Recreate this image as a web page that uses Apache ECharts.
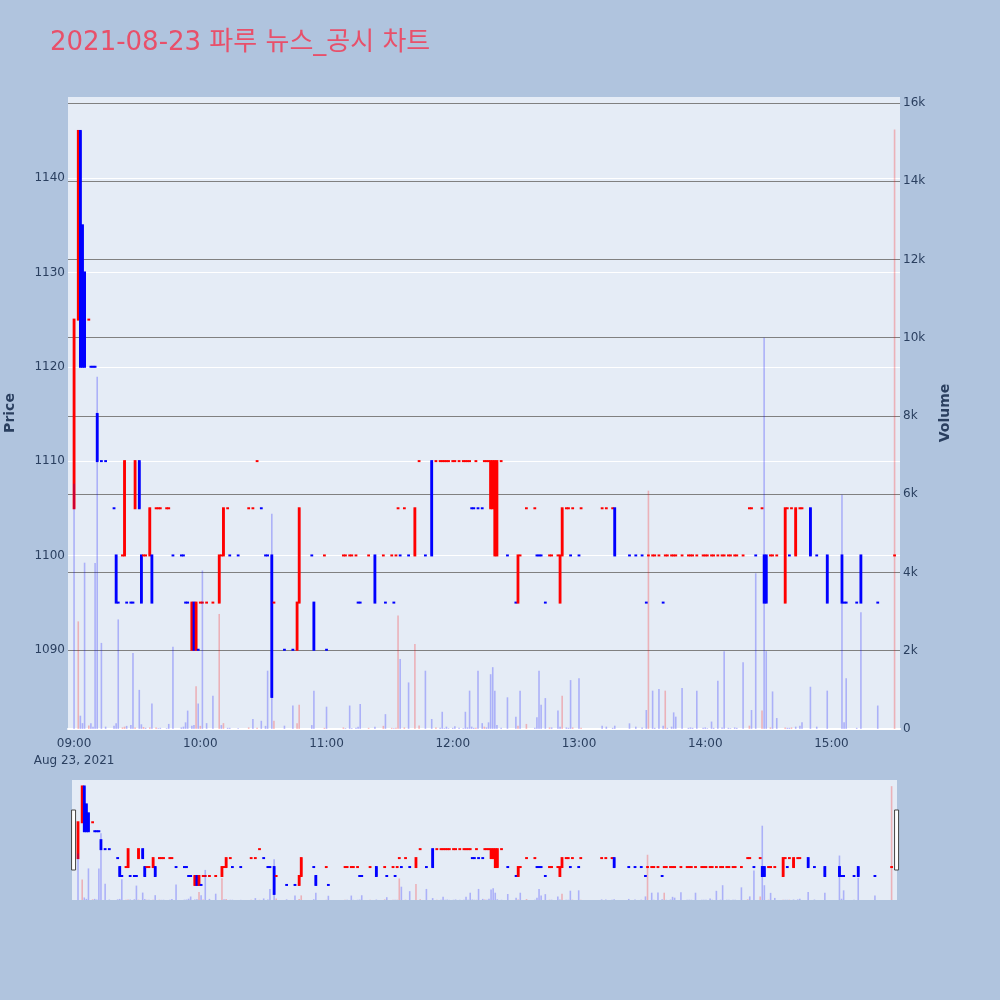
<!DOCTYPE html>
<html><head><meta charset="utf-8">
<script src="https://cdn.jsdelivr.net/npm/echarts@6/dist/echarts.min.js"></script>
<style>html,body{margin:0;padding:0;background:#b0c4de}#c{width:1000px;height:1000px}</style>
</head><body><div id="c"></div>
<script>
const times = [
'09:00','09:02','09:03','09:04','09:05','09:07','09:08','09:09','09:10','09:11',
'09:13','09:15','09:19','09:20','09:21','09:23','09:24','09:25','09:27','09:28',
'09:29','09:31','09:32','09:33','09:34','09:36','09:37','09:39','09:40','09:41',
'09:44','09:45','09:47','09:51','09:52','09:53','09:54','09:56','09:57','09:58',
'09:59','10:00','10:01','10:03','10:06','10:09','10:10','10:11','10:13','10:14',
'10:18','10:23','10:25','10:27','10:29','10:31','10:32','10:34','10:35','10:40',
'10:44','10:46','10:47','10:53','10:54','10:59','11:00','11:08','11:09','11:11',
'11:12','11:14','11:15','11:16','11:20','11:23','11:27','11:28','11:31','11:32',
'11:33','11:34','11:35','11:37','11:39','11:42','11:44','11:47','11:50','11:52',
'11:54','11:55','11:56','11:57','11:58','12:00','12:01','12:03','12:05','12:06',
'12:07','12:08','12:09','12:10','12:11','12:12','12:14','12:15','12:16','12:17',
'12:18','12:19','12:20','12:21','12:23','12:26','12:30','12:31','12:32','12:35',
'12:39','12:40','12:41','12:42','12:44','12:46','12:47','12:50','12:51','12:52',
'12:54','12:55','12:56','12:57','13:00','13:01','13:11','13:13','13:16','13:17',
'13:24','13:27','13:30','13:32','13:33','13:35','13:36','13:38','13:40','13:41',
'13:42','13:44','13:45','13:46','13:49','13:52','13:53','13:54','13:56','13:59',
'14:00','14:01','14:03','14:04','14:06','14:08','14:09','14:11','14:12','14:14',
'14:15','14:18','14:21','14:22','14:24','14:27','14:28','14:29','14:31','14:32',
'14:34','14:38','14:39','14:40','14:41','14:43','14:45','14:46','14:50','14:53',
'14:58','15:05','15:06','15:07','15:12','15:14','15:22','15:30'];
const opens = [
1105,1125,1145,1135,1130,1125,1120,1120,1120,1115,
1110,1110,1105,1100,1095,1100,1100,1095,1095,1095,
1105,1110,1100,1100,1100,1100,1100,1105,1105,1105,
1105,1105,1100,1100,1100,1095,1095,1090,1095,1090,
1090,1095,1095,1095,1095,1095,1100,1100,1105,1100,
1100,1105,1105,1110,1105,1100,1100,1100,1095,1090,
1090,1090,1095,1100,1095,1100,1090,1100,1100,1100,
1100,1100,1095,1095,1100,1100,1100,1095,1100,1095,
1100,1105,1100,1105,1100,1100,1110,1100,1110,1110,
1110,1110,1110,1110,1110,1110,1110,1110,1110,1110,
1110,1110,1105,1105,1110,1105,1105,1110,1110,1110,
1105,1105,1100,1100,1110,1100,1095,1095,1100,1105,
1105,1100,1100,1100,1095,1100,1100,1100,1095,1100,
1105,1105,1100,1105,1100,1105,1105,1105,1105,1105,
1100,1100,1100,1095,1100,1100,1100,1100,1095,1100,
1100,1100,1100,1100,1100,1100,1100,1100,1100,1100,
1100,1100,1100,1100,1100,1100,1100,1100,1100,1100,
1100,1100,1105,1105,1100,1105,1100,1100,1100,1100,
1100,1095,1105,1100,1105,1100,1105,1105,1105,1100,
1100,1100,1095,1095,1095,1100,1095,1100];
const highs = [
1125,1145,1145,1135,1130,1125,1120,1120,1120,1115,
1110,1110,1105,1100,1095,1100,1110,1095,1095,1095,
1110,1110,1100,1100,1100,1105,1100,1105,1105,1105,
1105,1105,1100,1100,1100,1095,1095,1095,1095,1095,
1090,1095,1095,1095,1095,1100,1100,1105,1105,1100,
1100,1105,1105,1110,1105,1100,1100,1100,1095,1090,
1090,1095,1105,1100,1095,1100,1090,1100,1100,1100,
1100,1100,1095,1095,1100,1100,1100,1095,1100,1095,
1100,1105,1100,1105,1100,1105,1110,1100,1110,1110,
1110,1110,1110,1110,1110,1110,1110,1110,1110,1110,
1110,1110,1105,1105,1110,1105,1105,1110,1110,1110,
1110,1110,1110,1110,1110,1100,1095,1100,1100,1105,
1105,1100,1100,1100,1095,1100,1100,1100,1100,1105,
1105,1105,1100,1105,1100,1105,1105,1105,1105,1105,
1100,1100,1100,1095,1100,1100,1100,1100,1095,1100,
1100,1100,1100,1100,1100,1100,1100,1100,1100,1100,
1100,1100,1100,1100,1100,1100,1100,1100,1100,1100,
1100,1100,1105,1105,1100,1105,1100,1100,1100,1100,
1100,1105,1105,1100,1105,1105,1105,1105,1105,1100,
1100,1100,1095,1095,1095,1100,1095,1100];
const lows = [
1105,1125,1120,1120,1120,1125,1120,1120,1120,1110,
1110,1110,1105,1095,1095,1100,1100,1095,1095,1095,
1105,1105,1095,1100,1100,1100,1095,1105,1105,1105,
1105,1105,1100,1100,1100,1095,1095,1090,1090,1090,
1090,1095,1095,1095,1095,1095,1100,1100,1105,1100,
1100,1105,1105,1110,1105,1100,1100,1085,1095,1090,
1090,1090,1095,1100,1090,1100,1090,1100,1100,1100,
1100,1100,1095,1095,1100,1095,1100,1095,1100,1095,
1100,1105,1100,1105,1100,1100,1110,1100,1100,1110,
1110,1110,1110,1110,1110,1110,1110,1110,1110,1110,
1110,1110,1105,1105,1110,1105,1105,1110,1110,1110,
1105,1105,1100,1100,1110,1100,1095,1095,1100,1105,
1105,1100,1100,1100,1095,1100,1100,1100,1095,1100,
1105,1105,1100,1105,1100,1105,1105,1105,1105,1100,
1100,1100,1100,1095,1100,1100,1100,1100,1095,1100,
1100,1100,1100,1100,1100,1100,1100,1100,1100,1100,
1100,1100,1100,1100,1100,1100,1100,1100,1100,1100,
1100,1100,1105,1105,1100,1105,1095,1095,1100,1100,
1100,1095,1105,1100,1105,1100,1105,1105,1100,1100,
1095,1095,1095,1095,1095,1095,1095,1100];
const closes = [
1125,1145,1120,1120,1120,1125,1120,1120,1120,1110,
1110,1110,1105,1095,1095,1100,1110,1095,1095,1095,
1110,1105,1095,1100,1100,1105,1095,1105,1105,1105,
1105,1105,1100,1100,1100,1095,1095,1095,1090,1095,
1090,1095,1095,1095,1095,1100,1100,1105,1105,1100,
1100,1105,1105,1110,1105,1100,1100,1085,1095,1090,
1090,1095,1105,1100,1090,1100,1090,1100,1100,1100,
1100,1100,1095,1095,1100,1095,1100,1095,1100,1095,
1100,1105,1100,1105,1100,1105,1110,1100,1100,1110,
1110,1110,1110,1110,1110,1110,1110,1110,1110,1110,
1110,1110,1105,1105,1110,1105,1105,1110,1110,1110,
1110,1110,1110,1110,1110,1100,1095,1100,1100,1105,
1105,1100,1100,1100,1095,1100,1100,1100,1100,1105,
1105,1105,1100,1105,1100,1105,1105,1105,1105,1100,
1100,1100,1100,1095,1100,1100,1100,1100,1095,1100,
1100,1100,1100,1100,1100,1100,1100,1100,1100,1100,
1100,1100,1100,1100,1100,1100,1100,1100,1100,1100,
1100,1100,1105,1105,1100,1105,1095,1095,1100,1100,
1100,1105,1105,1100,1105,1105,1105,1105,1100,1100,
1095,1095,1095,1095,1095,1095,1095,1100];
const volumes = [
6270,2750,340,150,4250,90,150,60,4240,9000,
2200,60,85,145,2800,40,60,80,100,1940,
40,1000,120,50,30,40,650,40,20,30,
20,130,2100,40,60,170,470,80,100,1090,
650,80,4050,150,850,2940,100,150,30,30,
20,40,255,30,210,80,1490,5500,210,85,
600,150,620,100,980,30,570,40,20,600,
20,30,60,640,30,60,80,380,30,20,
30,2900,1790,40,1190,2170,90,1490,255,40,
30,440,20,60,20,30,70,30,20,440,
40,980,60,30,30,1490,150,60,40,170,
1400,1580,980,100,30,810,315,80,980,130,
30,300,1490,620,790,40,40,470,60,850,
40,30,1250,40,1300,30,80,60,30,85,
145,60,40,485,6090,980,30,1020,85,980,
30,60,425,315,1050,30,40,30,980,30,
40,20,190,30,1235,40,1990,30,20,40,
30,1705,85,485,3980,470,10000,1990,40,960,
280,40,30,30,40,60,80,170,1080,60,
980,5985,170,1300,30,2985,600,15320];

const TITLE = '2021-08-23 파루 뉴스_공시 차트';
const DAY = [2021, 7, 23];
const toTs = s => { const p = s.split(':').map(Number); return new Date(DAY[0], DAY[1], DAY[2], p[0], p[1]).getTime(); };
const ts = times.map(toTs);
const T0 = toTs('09:00');
const XMIN = T0 - 2.5 * 60000, XMAX = T0 + 392.2 * 60000;
const RED = '#ff0000', BLUE = '#0000ff';

// plotly-like candle direction (flat candles compare with previous close)
const candleColor = [];
let inc = true, prevC = null;
for (let i = 0; i < ts.length; i++) {
  const o = opens[i], c = closes[i];
  if (c === o) { if (prevC !== null && c !== prevC) inc = c > prevC; }
  else inc = c > o;
  prevC = c;
  candleColor.push(inc ? RED : BLUE);
}
const volColor = closes.map((c, i) => (i > 0 && c > closes[i - 1]) ? 'rgba(255,0,0,0.25)' : 'rgba(0,0,255,0.25)');

const candleData = ts.map((t, i) => ({ value: [t, opens[i], closes[i], lows[i], highs[i]], itemStyle: { color: candleColor[i] } }));
const volData = ts.map((t, i) => ({ value: [t, volumes[i]], itemStyle: { color: volColor[i] } }));

function renderCandle(params, api) {
  const t = api.value(0);
  const pO = api.coord([t, api.value(1)]), pC = api.coord([t, api.value(2)]);
  const pL = api.coord([t, api.value(3)]), pH = api.coord([t, api.value(4)]);
  const x = pO[0], w = 2.8;
  const top = Math.min(pO[1], pC[1]) - 1, bot = Math.max(pO[1], pC[1]) + 1;
  const color = api.visual('color');
  return { type: 'group', children: [
    { type: 'line', shape: { x1: x, y1: pH[1], x2: x, y2: pL[1] }, style: { stroke: color, lineWidth: 2 } },
    { type: 'rect', shape: { x: x - w / 2, y: top, width: w, height: bot - top }, style: { fill: color } }
  ] };
}

const FONT = '"DejaVu Sans", Verdana, sans-serif';
const TXT = '#2a3f5f';
const PMIN = 1081.6, PMAX = 1148.6, VMAX = 16150;

const chart = echarts.init(document.getElementById('c'), null, { renderer: 'canvas' });
chart.setOption({
  backgroundColor: '#b0c4de',
  animation: false,
  title: { text: TITLE, left: 45, top: 25, textStyle: { fontSize: 26, fontWeight: 'normal', color: '#e8506a', fontFamily: '"DejaVu Sans", "Noto Sans CJK KR", sans-serif' } },
  grid: [
    { left: 68, right: 100, top: 97, height: 632, show: true, backgroundColor: '#e5ecf6', borderWidth: 0, containLabel: false, outerBoundsMode: 'none' },
    { left: 72, right: 103, top: 780, height: 120, show: true, backgroundColor: '#e5ecf6', borderWidth: 0, containLabel: false, outerBoundsMode: 'none' }
  ],
  xAxis: [
    { type: 'time', gridIndex: 0, min: XMIN, max: XMAX, minInterval: 3600000, maxInterval: 3600000,
      axisLine: { show: true, lineStyle: { color: '#ffffff', width: 2 } }, axisTick: { show: false }, splitLine: { show: false },
      axisLabel: { color: TXT, fontSize: 12, fontFamily: FONT, margin: 6, lineHeight: 17, hideOverlap: false,
        formatter: function (v) { const d = new Date(v); if (d.getMinutes() !== 0 || d.getSeconds() !== 0) return '';
          const s = String(d.getHours()).padStart(2, '0') + ':00'; return d.getHours() === 9 ? s + '\nAug 23, 2021' : s; } } },
    { type: 'time', gridIndex: 1, min: XMIN, max: XMAX, show: false }
  ],
  yAxis: [
    { type: 'value', gridIndex: 0, position: 'left', min: PMIN, max: PMAX, splitNumber: 5,
      name: 'Price', nameLocation: 'middle', nameRotate: 90, nameGap: 51,
      nameTextStyle: { color: TXT, fontSize: 14, fontWeight: 'bold', fontFamily: FONT },
      axisLine: { show: false }, axisTick: { show: false },
      axisLabel: { color: TXT, fontSize: 12, fontFamily: FONT, margin: 3, formatter: v => (Math.abs(v % 10) < 1e-6 ? String(v) : '') },
      splitLine: { show: true, showMinLine: false, showMaxLine: false, lineStyle: { color: '#ffffff', width: 1 } } },
    { type: 'value', gridIndex: 0, position: 'right', min: 0, max: VMAX, interval: 2000,
      name: 'Volume', nameLocation: 'middle', nameRotate: 90, nameGap: 38,
      nameTextStyle: { color: TXT, fontSize: 14, fontWeight: 'bold', fontFamily: FONT },
      axisLine: { show: false }, axisTick: { show: false },
      axisLabel: { color: TXT, fontSize: 12, fontFamily: FONT, margin: 3, formatter: v => (v % 2000 === 0 ? (v === 0 ? '0' : (v / 1000) + 'k') : '') },
      splitLine: { show: true, showMinLine: false, showMaxLine: false, lineStyle: { color: '#808080', width: 1 } } },
    { type: 'value', gridIndex: 1, min: PMIN, max: PMAX, show: false, splitLine: { show: false } },
    { type: 'value', gridIndex: 1, min: 0, max: VMAX, show: false, splitLine: { show: false } }
  ],
  dataZoom: [{
    type: 'slider', xAxisIndex: [0], filterMode: 'none', start: 0, end: 100,
    left: 72, right: 103, top: 780, height: 120,
    backgroundColor: 'rgba(0,0,0,0)', borderColor: 'rgba(0,0,0,0)', fillerColor: 'rgba(0,0,0,0)',
    showDataShadow: false, showDetail: false, brushSelect: false, moveHandleSize: 0,
    dataBackground: { lineStyle: { opacity: 0 }, areaStyle: { opacity: 0 } },
    selectedDataBackground: { lineStyle: { opacity: 0 }, areaStyle: { opacity: 0 } },
    handleIcon: 'path://M0,0H4V60H0Z', handleSize: '50%',
    handleStyle: { color: '#ffffff', borderColor: '#444444', borderWidth: 1 },
    emphasis: { handleStyle: { color: '#ffffff', borderColor: '#444444', borderWidth: 1 } }
  }],
  series: [
    { type: 'custom', xAxisIndex: 0, yAxisIndex: 0, renderItem: renderCandle, encode: { x: 0, y: [1, 2, 3, 4] }, clip: true, data: candleData },
    { type: 'bar', xAxisIndex: 0, yAxisIndex: 1, barWidth: 1.6, data: volData },
    { type: 'custom', xAxisIndex: 1, yAxisIndex: 2, renderItem: renderCandle, encode: { x: 0, y: [1, 2, 3, 4] }, clip: true, data: candleData },
    { type: 'bar', xAxisIndex: 1, yAxisIndex: 3, barWidth: 1.6, data: volData }
  ]
});
</script></body></html>
